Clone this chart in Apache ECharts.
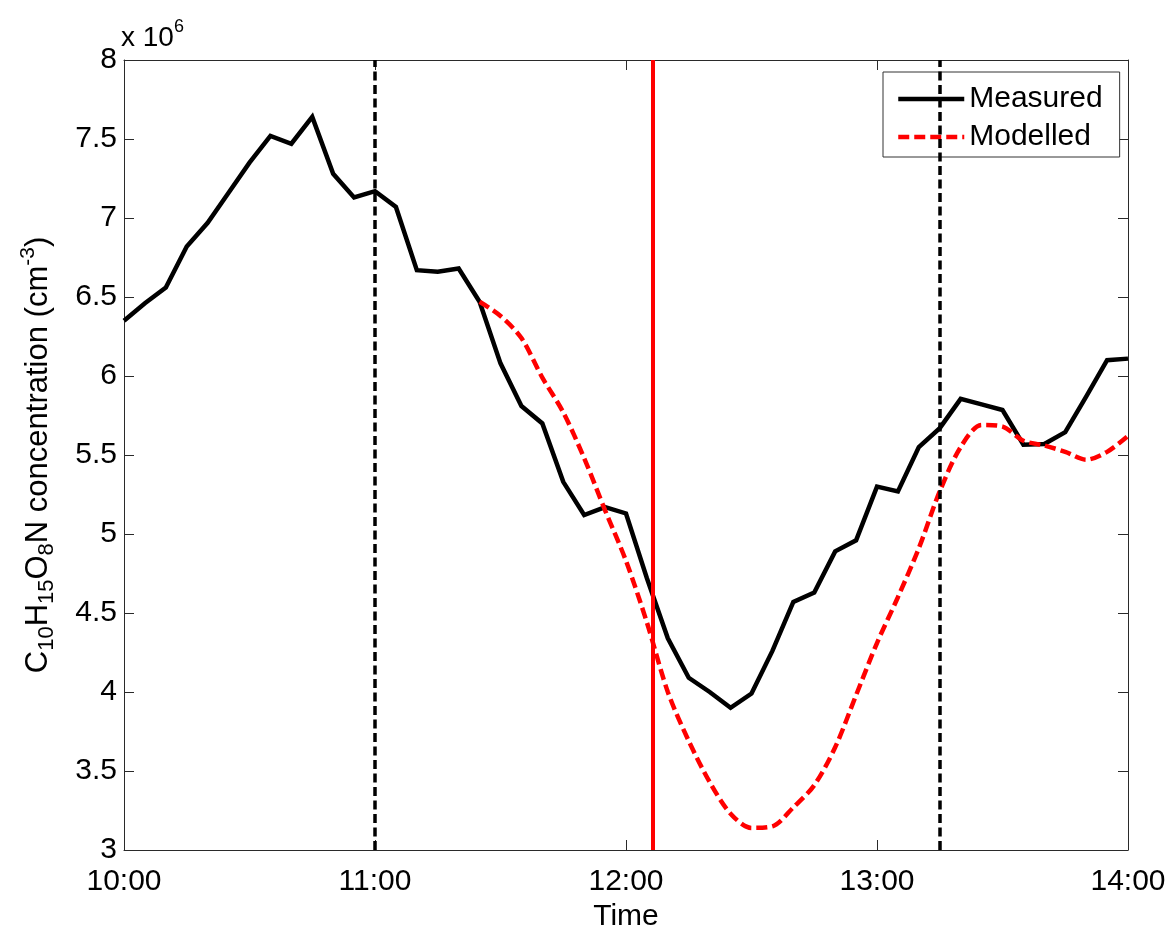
<!DOCTYPE html>
<html>
<head>
<meta charset="utf-8">
<script src="https://cdn.jsdelivr.net/npm/echarts@6/dist/echarts.min.js"></script>
<style>
  html, body { margin: 0; padding: 0; background: #ffffff; }
  #chart { width: 1172px; height: 929px; }
</style>
</head>
<body>
<div id="chart"></div>
<script>
const FONT = '"Liberation Sans", Arial, Helvetica, sans-serif';

// Measured C10H15O8N concentration, 5-minute samples (units of 10^6 cm^-3)
const measuredTimes = [
  '10:00','10:05','10:10','10:15','10:20','10:25','10:30','10:35','10:40','10:45',
  '10:50','10:55','11:00','11:05','11:10','11:15','11:20','11:25','11:30','11:35',
  '11:40','11:45','11:50','11:55','12:00','12:05','12:10','12:15','12:20','12:25',
  '12:30','12:35','12:40','12:45','12:50','12:55','13:00','13:05','13:10','13:15',
  '13:20','13:25','13:30','13:35','13:40','13:45','13:50','13:55','14:00'
];
const measuredValues = [
  6.35, 6.46, 6.56, 6.82, 6.97, 7.16, 7.35, 7.52, 7.47, 7.64,
  7.28, 7.13, 7.17, 7.07, 6.67, 6.66, 6.68, 6.47, 6.08, 5.81,
  5.70, 5.33, 5.12, 5.17, 5.13, 4.72, 4.34, 4.09, 4.00, 3.90,
  3.99, 4.26, 4.57, 4.63, 4.89, 4.96, 5.30, 5.27, 5.55, 5.67,
  5.855, 5.82, 5.785, 5.565, 5.57, 5.645, 5.87, 6.10, 6.11
];

// Modelled concentration (units of 10^6 cm^-3)
const modelledTimes = [
  '11:25','11:30','11:35','11:40','11:45','11:50','11:55','12:00','12:05','12:10',
  '12:15','12:20','12:25','12:30','12:35','12:40','12:45','12:50','12:55','13:00',
  '13:05','13:10','13:15','13:20','13:25','13:30','13:35','13:40','13:45','13:50',
  '13:55','14:00'
];
const modelledValues = [
  6.47, 6.38, 6.24, 5.99, 5.77, 5.48, 5.15, 4.83, 4.44, 4.00,
  3.69, 3.43, 3.23, 3.14, 3.15, 3.27, 3.41, 3.65, 3.98, 4.31,
  4.60, 4.91, 5.27, 5.55, 5.69, 5.68, 5.59, 5.56, 5.52, 5.47,
  5.52, 5.62
];

// Vertical reference lines
const windowTimes = ['11:00', '13:15'];   // black dashed
const eventTime = '12:06:30';             // red solid

// Axis ranges
const timeRange = ['10:00', '14:00'];
const timeStepMinutes = 60;
const concRange = [3, 8];
const concStep = 0.5;

function toMinutes(t) {
  const p = t.split(':').map(Number);
  return p[0] * 60 + p[1] + (p[2] || 0) / 60;
}
function fmtTime(m) {
  const h = Math.floor(m / 60);
  const mm = Math.round(m - h * 60);
  return h + ':' + (mm < 10 ? '0' : '') + mm;
}

const measuredData = measuredTimes.map((t, i) => [toMinutes(t), measuredValues[i]]);
const modelledData = modelledTimes.map((t, i) => [toMinutes(t), modelledValues[i]]);

const axisColor = '#2a2a2a';
const xMin = toMinutes(timeRange[0]);
const xMax = toMinutes(timeRange[1]);

const chart = echarts.init(document.getElementById('chart'), null, { renderer: 'canvas' });

chart.setOption({
  animation: false,
  backgroundColor: '#ffffff',
  textStyle: { fontFamily: FONT },
  title: {
    text: '{m|x 10}{s|6}',
    left: 121,
    top: 18,
    padding: 0,
    textStyle: {
      fontWeight: 'normal',
      rich: {
        m: { fontSize: 28, lineHeight: 40, fontWeight: 'normal', color: '#000', fontFamily: FONT },
        s: { fontSize: 18, lineHeight: 12, fontWeight: 'normal', verticalAlign: 'top', color: '#000', fontFamily: FONT }
      }
    }
  },
  grid: { left: 124, right: 44, top: 60, bottom: 79, containLabel: false, outerBoundsMode: 'none' },
  legend: {
    data: ['Measured', 'Modelled'],
    orient: 'vertical',
    left: 883,
    top: 72,
    itemWidth: 66,
    itemHeight: 14,
    itemGap: 8,
    padding: [12, 17, 5, 13],
    borderColor: '#333',
    borderWidth: 1,
    borderRadius: 0,
    backgroundColor: '#ffffff',
    itemStyle: { opacity: 0 },
    lineStyle: { width: 'inherit' },
    textStyle: { fontSize: 30, color: '#000', fontFamily: FONT }
  },
  xAxis: [
    {
      type: 'value',
      min: xMin,
      max: xMax,
      interval: timeStepMinutes,
      name: 'Time',
      nameLocation: 'middle',
      nameGap: 49,
      nameTextStyle: { fontSize: 30, color: '#000', fontFamily: FONT },
      axisLine: { show: true, onZero: false, lineStyle: { color: axisColor, width: 1 } },
      axisTick: { show: true, inside: true, length: 10, lineStyle: { color: axisColor, width: 1 } },
      axisLabel: { fontSize: 30, color: '#000', fontFamily: FONT, margin: 17, formatter: fmtTime },
      splitLine: { show: false }
    },
    {
      type: 'value',
      position: 'top',
      min: xMin,
      max: xMax,
      interval: timeStepMinutes,
      axisLine: { show: true, onZero: false, lineStyle: { color: axisColor, width: 1 } },
      axisTick: { show: true, inside: true, length: 10, lineStyle: { color: axisColor, width: 1 } },
      axisLabel: { show: false },
      splitLine: { show: false }
    }
  ],
  yAxis: [
    {
      type: 'value',
      min: concRange[0],
      max: concRange[1],
      interval: concStep,
      name: '{n|C}{s|10}{n|H}{s|15}{n|O}{s|8}{n|N concentration (cm}{p|-3}{n|)}',
      nameLocation: 'middle',
      nameRotate: 90,
      nameGap: 66,
      nameTextStyle: {
        color: '#000',
        fontFamily: FONT,
        rich: {
          n: { fontSize: 31, lineHeight: 40, color: '#000', fontFamily: FONT },
          s: { fontSize: 22, lineHeight: 20, verticalAlign: 'bottom', color: '#000', fontFamily: FONT },
          p: { fontSize: 21, lineHeight: 14, verticalAlign: 'top', color: '#000', fontFamily: FONT }
        }
      },
      axisLine: { show: true, onZero: false, lineStyle: { color: axisColor, width: 1 } },
      axisTick: { show: true, inside: true, length: 10, lineStyle: { color: axisColor, width: 1 } },
      axisLabel: { fontSize: 30, color: '#000', fontFamily: FONT, margin: 7 },
      splitLine: { show: false }
    },
    {
      type: 'value',
      position: 'right',
      min: concRange[0],
      max: concRange[1],
      interval: concStep,
      axisLine: { show: true, onZero: false, lineStyle: { color: axisColor, width: 1 } },
      axisTick: { show: true, inside: true, length: 10, lineStyle: { color: axisColor, width: 1 } },
      axisLabel: { show: false },
      splitLine: { show: false }
    }
  ],
  series: [
    {
      name: 'Measured',
      type: 'line',
      xAxisIndex: 0,
      yAxisIndex: 0,
      data: measuredData,
      symbol: 'none',
      showSymbol: false,
      color: '#000000',
      lineStyle: { color: '#000000', width: 4.5, join: 'miter' },
      z: 3
    },
    {
      name: 'Modelled',
      type: 'line',
      xAxisIndex: 0,
      yAxisIndex: 0,
      data: modelledData,
      symbol: 'none',
      showSymbol: false,
      smooth: 0.3,
      color: '#ff0000',
      lineStyle: { color: '#ff0000', width: 4.5, type: [11, 5] },
      z: 4
    },
    {
      name: 'markers',
      type: 'line',
      xAxisIndex: 0,
      yAxisIndex: 0,
      data: [],
      symbol: 'none',
      z: 2,
      markLine: {
        silent: true,
        symbol: ['none', 'none'],
        label: { show: false },
        emphasis: { disabled: true },
        data: windowTimes.map(t => ({
          xAxis: toMinutes(t),
          lineStyle: { color: '#000000', width: 3.5, type: [9, 4.5] }
        })).concat([{
          xAxis: toMinutes(eventTime),
          lineStyle: { color: '#ff0000', width: 4, type: 'solid' }
        }])
      }
    }
  ]
});
</script>
</body>
</html>
